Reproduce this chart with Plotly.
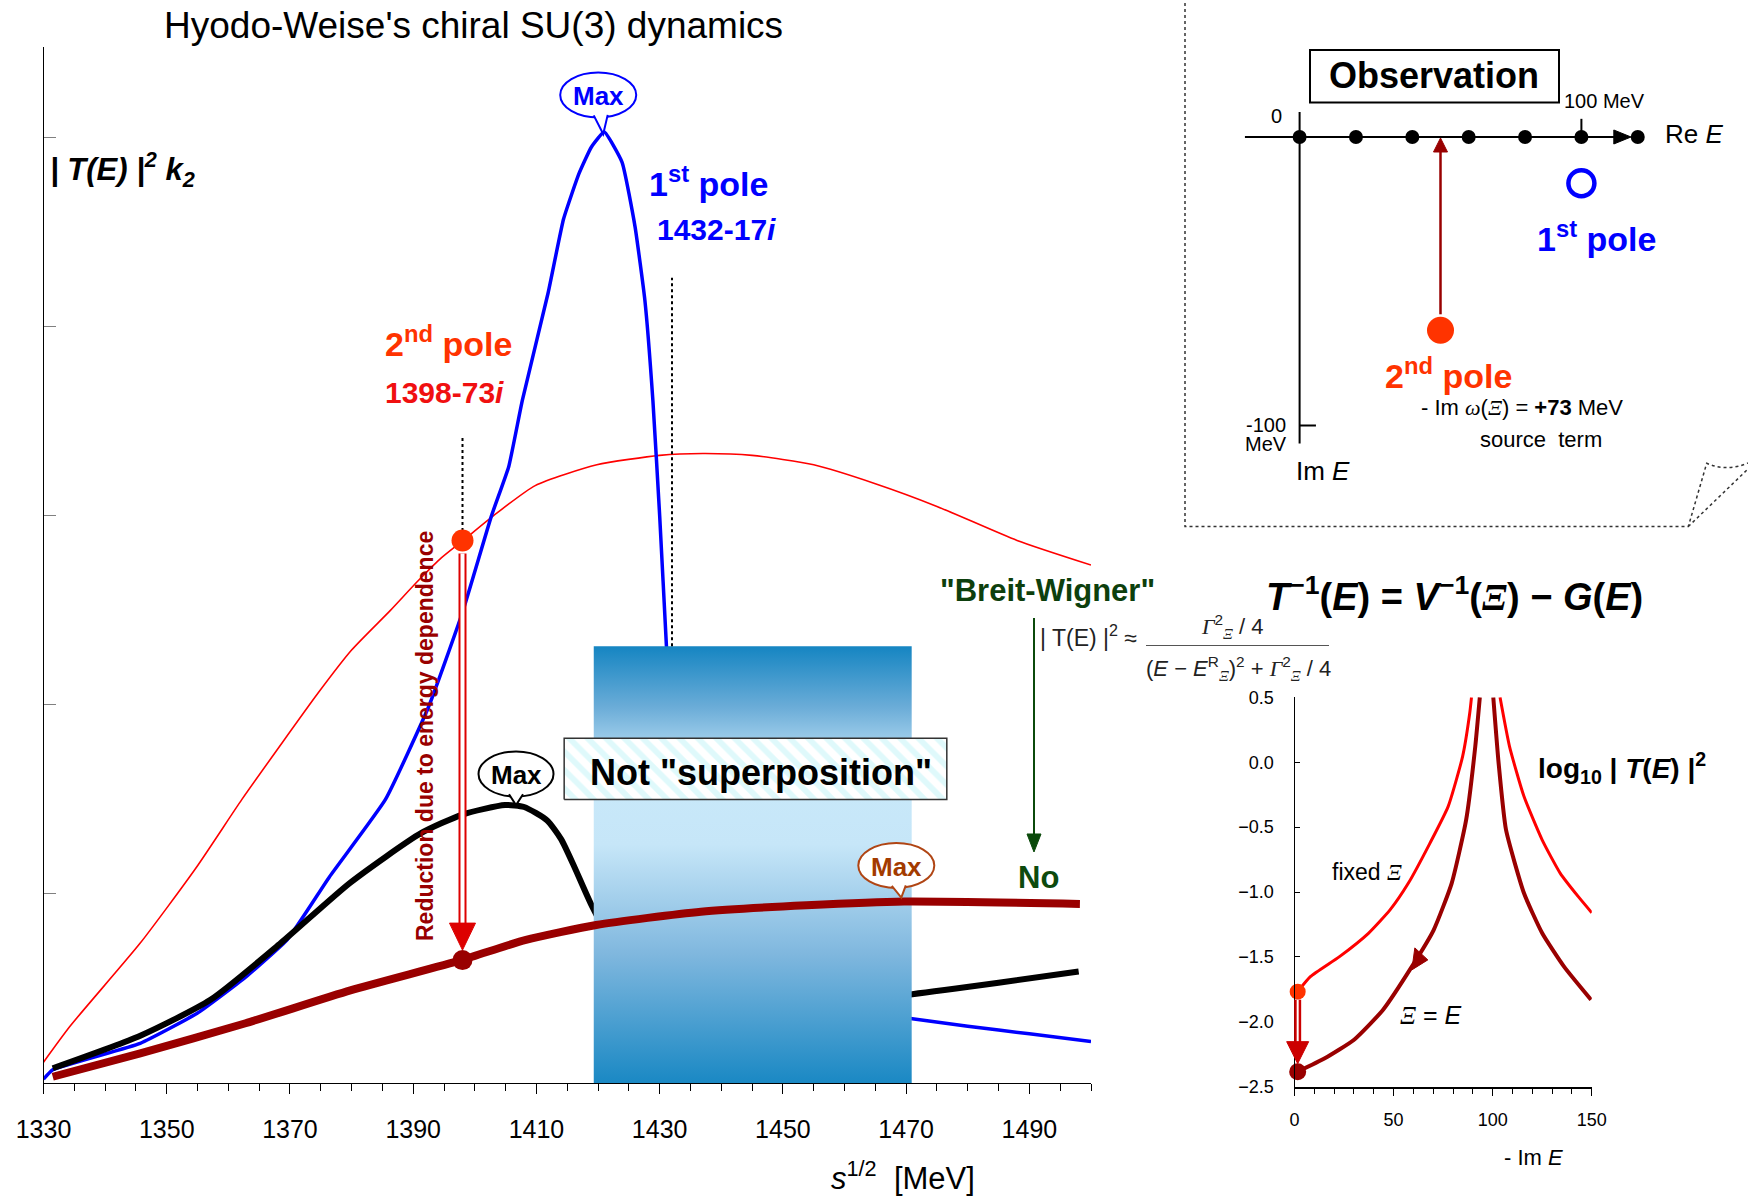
import plotly.graph_objects as go

W, H = 1748, 1198

# ---------------- main panel data : |T(E)|^2 k2 vs sqrt(s) [MeV] ----------------
blue_x = [1330, 1331.5, 1345.7, 1355, 1362.8, 1369.6, 1376.4, 1385.5, 1392.5, 1398, 1402.7, 1405.5,
          1407.7, 1411.9, 1414.4, 1416.9, 1418.9, 1421.0, 1423.9, 1426.0, 1427.6, 1428.9, 1430.0,
          1431.1, 1432.5, 1435, 1442, 1452, 1462, 1471, 1480, 1490, 1500]
blue_y = [0.02, 0.07, 0.21, 0.37, 0.56, 0.76, 1.09, 1.50, 1.99, 2.49, 3.00, 3.26,
          3.61, 4.18, 4.57, 4.81, 4.95, 5.03, 4.87, 4.53, 4.14, 3.61, 3.00,
          2.31, 1.50, 0.95, 0.62, 0.47, 0.39, 0.34, 0.30, 0.26, 0.22]

black_x = [1331.5, 1345.7, 1357.1, 1368.5, 1379.8, 1391.2, 1398, 1404.9, 1408, 1411.7, 1414,
           1416.2, 1419.1, 1425, 1435, 1450, 1471, 1485, 1498]
black_y = [0.078, 0.25, 0.44, 0.74, 1.06, 1.32, 1.42, 1.47, 1.46, 1.39, 1.29,
           1.14, 0.93, 0.60, 0.42, 0.40, 0.47, 0.53, 0.59]

red_x = [1330, 1334.3, 1345.7, 1354.8, 1362.2, 1368.3, 1374.5, 1380, 1386.3, 1390.6, 1394.3,
         1398.1, 1403, 1409.8, 1419.8, 1430, 1437, 1445, 1455, 1465, 1475, 1488, 1500]
red_y = [0.11, 0.30, 0.74, 1.14, 1.50, 1.78, 2.06, 2.29, 2.50, 2.65, 2.77,
         2.87, 3.00, 3.16, 3.27, 3.32, 3.33, 3.32, 3.27, 3.17, 3.05, 2.87, 2.74]

dred_x = [1331.5, 1345.7, 1362.8, 1379.8, 1397.8, 1408.3, 1419.7, 1436.7, 1453.8, 1469.7, 1498.2]
dred_y = [0.033, 0.157, 0.316, 0.49, 0.65, 0.757, 0.836, 0.906, 0.94, 0.96, 0.947]

x_ticks = [1330, 1350, 1370, 1390, 1410, 1430, 1450, 1470, 1490]
pole1_re, pole2_re = 1432, 1398
pole2_fixed_y, pole2_eq_y = 2.87, 0.65
box_x = [1419.3, 1470.9]          # hidden region
box_y = [-0.02, 2.31]
label_x = [1414.5, 1476.6]        # "Not superposition" box
label_y = [1.50, 1.824]

# ---------------- observation (complex E plane) data ----------------
obs_re = [0, 20, 40, 60, 80, 100, 120]
obs_im = [0, 0, 0, 0, 0, 0, 0]
p1_re, p1_im = 100, -16
p2_re, p2_im = 50, -67

# ---------------- inset : log10 |T(E)|^2 vs -Im E ----------------
fix_lx = [1.6, 8.0, 22.7, 37.3, 48.2, 57.4, 68.3, 77.5, 84.8, 88.4, 89.3]
fix_ly = [-1.768, -1.652, -1.498, -1.318, -1.138, -0.933, -0.625, -0.342, 0.043, 0.377, 0.5]
fix_rx = [103.7, 108.5, 115.8, 125, 134.1, 143.2, 150]
fix_ry = [0.5, 0.12, -0.265, -0.6, -0.856, -1.036, -1.16]
eq_lx = [1.6, 15.3, 29.9, 44.6, 59.2, 70.2, 79.3, 86.6, 91.2, 93.5]
eq_ly = [-2.384, -2.281, -2.14, -1.909, -1.575, -1.293, -0.933, -0.445, 0.12, 0.5]
eq_rx = [100.3, 103, 106.7, 115.8, 125, 136, 149.6]
eq_ry = [0.5, -0.01, -0.52, -1.01, -1.318, -1.575, -1.83]
inset_start_x = 1.6

# ---------------- geometry (pixels) ----------------
MX0, MX1, MY0, MY1 = 43.5, 1091.0, 1083.0, 47.0
MXR, MYR = [1330, 1500], [0, 5.48]
IX0, IX1, IY0, IY1 = 1294.5, 1591.8, 1086.7, 697.3
IXR, IYR = [0, 150], [-2.5, 0.5]
OX0, OX1, OY0, OY1 = 1185.0, 1748.0, 526.0, 0.0
OXR = [(OX0 - 1299.6) / 2.818, (OX1 - 1299.6) / 2.818]
OYR = [-(OY0 - 137.0) / 2.885, 137.0 / 2.885]


def px(x):
    return x / W


def py(y):
    return 1 - y / H


def mx(v):
    return MX0 + (v - MXR[0]) / (MXR[1] - MXR[0]) * (MX1 - MX0)


def my(v):
    return MY0 - (v - MYR[0]) / (MYR[1] - MYR[0]) * (MY0 - MY1)


def ix(v):
    return IX0 + (v - IXR[0]) / (IXR[1] - IXR[0]) * (IX1 - IX0)


def iy(v):
    return IY0 - (v - IYR[0]) / (IYR[1] - IYR[0]) * (IY0 - IY1)


def ox(v):
    return OX0 + (v - OXR[0]) / (OXR[1] - OXR[0]) * (OX1 - OX0)


def oy(v):
    return OY0 - (v - OYR[0]) / (OYR[1] - OYR[0]) * (OY0 - OY1)


SANS = "Liberation Sans, Arial, sans-serif"
SERIF_I = '<span style="font-family:Liberation Serif"><i>%s</i></span>'
XI = SERIF_I % "Ξ"
GAM = SERIF_I % "Γ"
OMG = SERIF_I % "ω"

fig = go.Figure()

# ---------------- main traces ----------------
fig.add_trace(go.Scatter(x=red_x, y=red_y, mode="lines",
                         line=dict(color="#ff0000", width=1.6, shape="spline", smoothing=0.6)))
fig.add_trace(go.Scatter(x=blue_x, y=blue_y, mode="lines",
                         line=dict(color="#0000ff", width=3.5, shape="spline", smoothing=0.4)))
fig.add_trace(go.Scatter(x=black_x, y=black_y, mode="lines",
                         line=dict(color="black", width=6, shape="spline", smoothing=0.6)))
fig.add_trace(go.Scatter(
    x=[box_x[0], box_x[1], box_x[1], box_x[0], box_x[0]],
    y=[box_y[0], box_y[0], box_y[1], box_y[1], box_y[0]],
    mode="lines", line=dict(width=0), fill="toself",
    fillgradient=dict(type="vertical", colorscale=[
        [0.0, "#1787c3"], [0.3, "#7fb7de"], [0.55, "#c6e6f8"], [0.72, "#c9e9fa"],
        [0.86, "#6cadd8"], [1.0, "#1585c2"]])))
fig.add_trace(go.Scatter(x=dred_x, y=dred_y, mode="lines",
                         line=dict(color="#990000", width=8, shape="spline", smoothing=0.6)))
fig.add_trace(go.Scatter(
    x=[label_x[0], label_x[1], label_x[1], label_x[0], label_x[0]],
    y=[label_y[0], label_y[0], label_y[1], label_y[1], label_y[0]],
    mode="lines", line=dict(color="#333333", width=1.5), fill="toself",
    fillpattern=dict(shape="\\", fgcolor="#bff4f7", bgcolor="white", size=13, solidity=0.45)))
# dotted guides at the pole energies
fig.add_trace(go.Scatter(x=[pole2_re, pole2_re], y=[pole2_fixed_y + 0.05, 3.42], mode="lines",
                         line=dict(color="black", width=2, dash="dot")))
fig.add_trace(go.Scatter(x=[pole1_re, pole1_re], y=[box_y[1], 4.26], mode="lines",
                         line=dict(color="black", width=2, dash="dot")))
# pole dots
fig.add_trace(go.Scatter(x=[pole2_re], y=[pole2_fixed_y], mode="markers", cliponaxis=False,
                         marker=dict(color="#ff3300", size=22)))
fig.add_trace(go.Scatter(x=[pole2_re], y=[pole2_eq_y], mode="markers", cliponaxis=False,
                         marker=dict(color="#990000", size=20)))

# ---------------- observation panel traces ----------------
fig.add_trace(go.Scatter(x=obs_re, y=obs_im, mode="markers", xaxis="x2", yaxis="y2",
                         marker=dict(color="black", size=14)))
fig.add_trace(go.Scatter(x=[p1_re], y=[p1_im], mode="markers", xaxis="x2", yaxis="y2",
                         marker=dict(symbol="circle-open", color="#0000ff", size=26, line=dict(width=4.5))))
fig.add_trace(go.Scatter(x=[p2_re], y=[p2_im], mode="markers", xaxis="x2", yaxis="y2",
                         marker=dict(color="#ff3300", size=27)))

# ---------------- inset traces ----------------
for xs, ys, c, w in [(fix_lx, fix_ly, "#ff0000", 3), (fix_rx, fix_ry, "#ff0000", 3),
                     (eq_lx, eq_ly, "#990000", 4), (eq_rx, eq_ry, "#990000", 4)]:
    fig.add_trace(go.Scatter(x=xs, y=ys, mode="lines", xaxis="x3", yaxis="y3",
                             line=dict(color=c, width=w, shape="spline", smoothing=0.5)))
fig.add_trace(go.Scatter(x=[fix_lx[0]], y=[fix_ly[0]], mode="markers", xaxis="x3", yaxis="y3",
                         cliponaxis=False, marker=dict(color="#ff3300", size=16)))
fig.add_trace(go.Scatter(x=[eq_lx[0]], y=[eq_ly[0]], mode="markers", xaxis="x3", yaxis="y3",
                         cliponaxis=False, marker=dict(color="#990000", size=17)))

shapes = []
annotations = []


def line(x0, y0, x1, y1, color="black", width=1, dash=None):
    d = dict(type="line", xref="paper", yref="paper", x0=px(x0), y0=py(y0), x1=px(x1), y1=py(y1),
             line=dict(color=color, width=width))
    if dash:
        d["line"]["dash"] = dash
    shapes.append(d)


def tri(pts, color):
    path = "M " + " L ".join("%f %f" % (px(a), py(b)) for a, b in pts) + " Z"
    shapes.append(dict(type="path", xref="paper", yref="paper", path=path,
                       fillcolor=color, line=dict(color=color, width=1)))


def text(t, x, y, size, color="black", family=SANS, angle=0, xanchor="center"):
    annotations.append(dict(text=t, x=px(x), y=py(y), xref="paper", yref="paper", showarrow=False,
                            font=dict(size=size, color=color, family=family), textangle=angle,
                            xanchor=xanchor, yanchor="middle"))


def bubble(cx, cy, w, h, tipx, tipy, color, tcolor):
    shapes.append(dict(type="circle", xref="paper", yref="paper", x0=px(cx - w / 2), x1=px(cx + w / 2),
                       y0=py(cy + h / 2), y1=py(cy - h / 2), fillcolor="white", line=dict(color=color, width=2)))
    bx = cx + (tipx - cx) * 0.5
    pts = []
    for dx in (-7, 7):
        xx = bx + dx
        r = max(0.0, 1 - ((xx - cx) / (w / 2)) ** 2) ** 0.5
        pts.append((xx, cy + h / 2 * r - 2))
    path = "M %f %f L %f %f L %f %f" % (px(pts[0][0]), py(pts[0][1]), px(tipx), py(tipy),
                                         px(pts[1][0]), py(pts[1][1]))
    shapes.append(dict(type="path", xref="paper", yref="paper", path=path, fillcolor="white",
                       line=dict(color=color, width=2)))
    text("<b>Max</b>", cx, cy + 1, 26, tcolor)


# ---- main decorations ----
ax_ = mx(pole2_re)
top_ = my(pole2_fixed_y) + 13
head_top = my(pole2_eq_y) - 37
head_tip = my(pole2_eq_y) - 10
line(ax_, top_, ax_, head_top + 2, "#dd0000", 8)
line(ax_, top_, ax_, head_top + 2, "white", 4)
tri([(ax_ - 13, head_top), (ax_ + 13, head_top), (ax_, head_tip)], "#dd0000")

bubble(mx(1421.0) - 6, my(5.03) - 37, 76, 45, mx(1421.0) - 1, my(5.03) + 2, "#0000ff", "#0000ff")
bubble(mx(1404.9) + 11, my(1.47) - 31, 75, 45, mx(1404.9) + 11, my(1.47), "black", "black")
bubble(mx(1469.7) - 8, my(0.96) - 36, 76, 45, mx(1469.7) - 3, my(0.96) - 4, "#b04514", "#a33b00")

line(1034, 618, 1034, 836, "#0b4a0b", 2)
tri([(1027, 834), (1041, 834), (1034, 852)], "#0b4a0b")

line(1146, 645.5, 1329, 645.5, "#555555", 1.2)

# ---- observation panel decorations ----
panel = ("M %f %f L %f %f L %f %f L %f %f Q %f %f %f %f" %
         (px(OX0), py(-3), px(OX0), py(526.5), px(1688.3), py(526.5), px(1706.7), py(463.3),
          px(1726.7), py(472), px(1748), py(463)))
shapes.append(dict(type="path", xref="paper", yref="paper", path=panel,
                   line=dict(color="#333333", width=1.5, dash="dot")))
line(1688.3, 526.5, 1748, 469, "#333333", 1.5, "dot")
shapes.append(dict(type="rect", xref="paper", yref="paper", x0=px(1310), x1=px(1559),
                   y0=py(102.6), y1=py(50), line=dict(color="black", width=2)))
line(ox(-19.4), oy(0), ox(112), oy(0), "black", 2)
tri([(ox(111.5), oy(0) - 7), (ox(111.5), oy(0) + 7), (ox(117.6), oy(0))], "black")
line(ox(0), oy(8.7), ox(0), oy(-106.2), "black", 2)
line(ox(0), oy(-100), ox(5.8), oy(-100), "black", 2)
line(ox(100), oy(0), ox(100), oy(6.3), "black", 2)
line(ox(p2_re), oy(p2_im) - 16, ox(p2_re), oy(0) + 14, "#990000", 2.5)
tri([(ox(p2_re) - 7, oy(0) + 15), (ox(p2_re) + 7, oy(0) + 15), (ox(p2_re), oy(0) + 1)], "#990000")

# ---- inset decorations ----
ax3 = ix(inset_start_x)
line(ax3, iy(fix_ly[0]) + 8, ax3, iy(eq_ly[0]) - 28, "#cc0000", 7)
line(ax3, iy(fix_ly[0]) + 8, ax3, iy(eq_ly[0]) - 28, "white", 2)
tri([(ax3 - 11, iy(eq_ly[0]) - 30), (ax3 + 11, iy(eq_ly[0]) - 30), (ax3, iy(eq_ly[0]) - 8)], "#cc0000")
tx, ty = ix(59.2), iy(-1.6)
tri([(tx, ty), (tx + 3, ty - 22), (tx + 16, ty - 10)], "#990000")

# ---------------- texts ----------------
text("Hyodo-Weise's chiral SU(3) dynamics", 473, 25, 37)
text("<b><i>| T(E) |<sup>2</sup> k<sub>2</sub></i></b>", 123, 170, 31)
text("<b>1<sup>st</sup> pole</b>", 708, 181, 34, "#0000ff")
text("<b>1432-17<i>i</i></b>", 716, 229, 30, "#0000ff")
text("<b>2<sup>nd</sup> pole</b>", 448, 342, 34, "#ff3300")
text("<b>1398-73<i>i</i></b>", 444, 392, 30, "#f01010")
text("<b>Reduction due to energy dependence</b>", 425, 736, 23, "#990000", angle=-90)
text('<b>Not "superposition"</b>', 761, 772, 36)
text('<b>"Breit-Wigner"</b>', 1047, 590, 31, "#0d3f0d")
text("<b>No</b>", 1038, 877, 31, "#0d4a0d")
text("| T(E) |<sup>2</sup> ≈", 1088, 636, 23, "#222222")
text(GAM + "<sup>2</sup><sub>" + XI + "</sub> / 4", 1232, 626, 22, "#222222")
text("(<i>E</i> − <i>E</i><sup>R</sup><sub>" + XI + "</sub>)<sup>2</sup> + " + GAM + "<sup>2</sup><sub>" + XI
     + "</sub> / 4", 1238, 668, 22, "#222222")
text("<b><i>T</i><sup>−1</sup>(<i>E</i>) = <i>V</i><sup>−1</sup>(" + XI + ") − <i>G</i>(<i>E</i>)</b>",
     1454, 594, 38)
text("<i>s</i><sup>1/2</sup>  [MeV]", 903, 1176, 31)

text("<b>Observation</b>", 1434, 76, 36)
text("0", 1276, 116, 20)
text("100 MeV", 1604, 101, 20)
text("-100", 1266, 425, 20)
text("MeV", 1266, 444, 20)
text("Im <i>E</i>", 1323, 471, 26)
text("Re <i>E</i>", 1694, 134, 26)
text("<b>1<sup>st</sup> pole</b>", 1596, 236, 34, "#0000ff")
text("<b>2<sup>nd</sup> pole</b>", 1448, 373, 34, "#ff3300")
text("- Im " + OMG + "(" + XI + ") = <b>+73</b> MeV", 1522, 408, 22)
text("source  term", 1541, 439, 22)

text("fixed " + XI, 1367, 872, 23)
text(XI + " = <i>E</i>", 1430, 1015, 25)
text("<b>log<sub>10</sub> | <i>T</i>(<i>E</i>) |<sup>2</sup></b>", 1622, 768, 28)
text("- Im <i>E</i>", 1533, 1157, 22)

fig.update_layout(
    width=W, height=H, margin=dict(l=0, r=0, t=0, b=0, autoexpand=False),
    paper_bgcolor="white", plot_bgcolor="rgba(0,0,0,0)", showlegend=False,
    font=dict(family=SANS, color="black"),
    shapes=shapes, annotations=annotations,
    xaxis=dict(domain=[px(MX0), px(MX1)], range=MXR, anchor="y", showline=True, linecolor="black",
               linewidth=1, ticks="outside", tick0=1330, dtick=20, ticklen=10, tickcolor="black",
               tickfont=dict(size=25), ticklabelstandoff=14, showgrid=False, zeroline=False,
               automargin=False,
               minor=dict(ticks="outside", dtick=5, tick0=1330, ticklen=7, tickcolor="black", showgrid=False)),
    yaxis=dict(domain=[py(MY0), py(MY1)], range=MYR, anchor="x", showline=True, linecolor="black",
               linewidth=1, ticks="inside", dtick=1, ticklen=12, tickcolor="#808080", automargin=False,
               showticklabels=False, showgrid=False, zeroline=False),
    xaxis2=dict(domain=[px(OX0), px(OX1)], range=OXR, anchor="y2", visible=False, automargin=False),
    yaxis2=dict(domain=[py(OY0), py(OY1)], range=OYR, anchor="x2", visible=False, automargin=False),
    xaxis3=dict(domain=[px(IX0), px(IX1)], range=IXR, anchor="y3", showline=True, linecolor="black",
                linewidth=1.5, ticks="outside", tick0=0, dtick=50, ticklen=8, tickcolor="black",
                tickfont=dict(size=18), ticklabelstandoff=8, showgrid=False, zeroline=False,
                automargin=False,
                minor=dict(ticks="outside", dtick=10, tick0=0, ticklen=6, tickcolor="black", showgrid=False)),
    yaxis3=dict(domain=[py(IY0), py(IY1)], range=IYR, anchor="x3", showline=True, linecolor="black",
                linewidth=1, ticks="inside", dtick=0.5, ticklen=5, tickcolor="black", tickformat=".1f",
                tickfont=dict(size=18), ticklabelstandoff=16, showgrid=False, zeroline=False,
                automargin=False),
)

fig.write_html("out.html")
